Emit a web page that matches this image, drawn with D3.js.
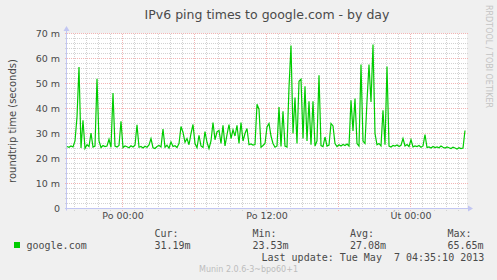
<!DOCTYPE html>
<html>
<head>
<meta charset="utf-8">
<script src="https://cdn.jsdelivr.net/npm/d3@7"></script>
<style>
body { margin: 0; background: #f0f0f0; }
svg { display: block; }
</style>
</head>
<body>
<script>

// Data: ping times (ms), one sample every 10 minutes
const startTime = "2013-05-05T19:22";
const stepMinutes = 10;
const pingMs = [
    24.8, 24.5, 25.0, 24.6, 27.0, 36.6, 56.6, 24.2, 35.3, 24.0,
    25.5, 24.8, 30.2, 24.6, 25.0, 51.9, 27.0, 24.4, 25.2, 24.8,
    25.0, 27.7, 24.5, 46.2, 25.0, 24.6, 25.2, 34.9, 24.4, 25.0,
    24.7, 24.3, 25.1, 24.6, 25.3, 33.5, 24.5, 24.8, 24.2, 24.9,
    24.5, 25.4, 28.0, 24.3, 24.0, 24.8, 25.2, 24.6, 31.8, 24.5,
    25.3, 24.1, 26.6, 24.8, 25.1, 24.4, 26.0, 32.8, 30.5, 26.5,
    28.0, 25.5, 30.0, 33.6, 26.0, 24.3, 29.3, 25.0, 24.4, 30.8,
    26.5, 24.0, 27.0, 34.4, 27.5, 30.7, 31.3, 26.0, 33.3, 25.0,
    29.5, 33.6, 28.0, 31.5, 29.0, 33.3, 26.0, 34.4, 27.0, 30.0,
    32.0, 25.5, 25.8, 25.4, 25.6, 41.7, 39.7, 24.5, 25.2, 26.0,
    32.6, 34.0, 29.0, 26.0, 24.5, 25.0, 40.6, 24.8, 38.9, 25.0,
    24.6, 48.5, 65.2, 30.0, 44.4, 26.0, 50.9, 51.7, 28.0, 48.9,
    27.0, 42.9, 25.5, 42.9, 25.0, 27.0, 53.3, 25.2, 24.8, 28.6,
    25.0, 25.4, 34.0, 33.0, 26.0, 24.8, 25.5, 25.0, 25.6, 25.2,
    25.8, 25.0, 43.3, 31.0, 44.0, 26.0, 25.0, 57.6, 27.0, 26.0,
    43.0, 57.6, 42.6, 65.6, 30.0, 25.5, 26.0, 25.0, 39.3, 25.5,
    56.8, 25.0, 24.6, 25.2, 25.0, 25.4, 24.8, 25.3, 28.0, 25.0,
    25.6, 24.8, 27.5, 24.6, 25.0, 24.8, 25.2, 24.5, 25.0, 29.6,
    24.4, 24.6, 24.2, 24.8, 24.4, 24.6, 24.3, 25.0, 24.5, 24.2,
    24.6, 24.3, 24.0, 24.5, 24.2, 23.8, 24.3, 24.0, 24.2, 31.2
];

// Axis ticks and labels
const yTicks = [0, 10, 20, 30, 40, 50, 60, 70];
const yTickLabels = ["0", "10 m", "20 m", "30 m", "40 m", "50 m", "60 m", "70 m"];
const xTickTimes = ["2013-05-06T00:00", "2013-05-06T12:00", "2013-05-07T00:00"];
const xTickLabels = ["Po 00:00", "Po 12:00", "Út 00:00"];

// Legend texts
const seriesName = "google.com";
const statLabels = ["Cur:", "Min:", "Avg:", "Max:"];
const statValues = ["31.19m", "23.53m", "27.08m", "65.65m"];
const lastUpdate = "Last update: Tue May  7 04:35:10 2013";

// SVG dimensions
const outerWidth = 497, outerHeight = 280;
const plotLeft = 67, plotRight = 467, plotTop = 33.5, plotBottom = 208.5;
const viewMinutes = 2000;   // 400 px at 5 min per px

const gridGrey = "#d2d2d2", gridRed = "#f2b4b4", axisColour = "#c2c6f2";
const textColour = "#4a4a4a";

const svg = d3.select("body")
    .append("svg")
    .attr("width", outerWidth)
    .attr("height", outerHeight);

svg.append("rect")
    .attr("width", outerWidth)
    .attr("height", outerHeight)
    .attr("fill", "#f0f0f0");

// Scales
const parseTime = d3.timeParse("%Y-%m-%dT%H:%M");
const t0 = parseTime(startTime);
const t1 = d3.timeMinute.offset(t0, viewMinutes);

let x = d3.scaleTime()
    .domain([t0, t1])
    .range([plotLeft, plotRight]);
let y = d3.scaleLinear()
    .domain([0, 70])
    .range([plotBottom, plotTop]);

let points = pingMs.map((v, i) => ({ t: d3.timeMinute.offset(t0, i * stepMinutes), v: v }));

// Canvas
svg.append("rect")
    .attr("x", plotLeft)
    .attr("y", plotTop)
    .attr("width", plotRight - plotLeft)
    .attr("height", plotBottom - plotTop)
    .attr("fill", "#ffffff");

// Horizontal grid: minor every 2 m, major every 10 m
let grid = svg.append("g").attr("shape-rendering", "crispEdges");
grid.selectAll(".hmin")
    .data(d3.range(2, 70, 2).filter(v => v % 10 !== 0))
    .join("line")
    .attr("x1", plotLeft - 2).attr("x2", plotRight + 2)
    .attr("y1", d => y(d)).attr("y2", d => y(d))
    .attr("stroke", gridGrey).attr("stroke-dasharray", "1,1");

// Vertical grid: every hour, red every 6 hours
let hours = d3.timeHour.range(d3.timeHour.ceil(t0), t1);
grid.selectAll(".vgrid")
    .data(hours)
    .join("line")
    .attr("x1", d => Math.floor(x(d)) + 0.5).attr("x2", d => Math.floor(x(d)) + 0.5)
    .attr("y1", plotTop).attr("y2", plotBottom + 2)
    .attr("stroke", d => d.getHours() % 6 === 0 ? gridRed : gridGrey)
    .attr("stroke-dasharray", "1,1");

grid.selectAll(".hmaj")
    .data(yTicks.filter(v => v > 0))
    .join("line")
    .attr("x1", plotLeft - 2).attr("x2", plotRight + 2)
    .attr("y1", d => y(d)).attr("y2", d => y(d))
    .attr("stroke", gridRed).attr("stroke-dasharray", "1,1");

// Axes lines and arrows
svg.append("line")
    .attr("x1", plotLeft - 2).attr("x2", plotRight + 2)
    .attr("y1", plotBottom).attr("y2", plotBottom)
    .attr("stroke", axisColour);
svg.append("line")
    .attr("x1", plotLeft - 0.5).attr("x2", plotLeft - 0.5)
    .attr("y1", plotBottom + 2).attr("y2", plotTop - 3)
    .attr("stroke", axisColour);
svg.append("path")
    .attr("d", `M${plotRight + 1},${plotBottom - 3} L${plotRight + 6},${plotBottom} L${plotRight + 1},${plotBottom + 3} Z`)
    .attr("fill", axisColour);
svg.append("path")
    .attr("d", `M${plotLeft - 3.5},${plotTop - 2.5} L${plotLeft - 0.5},${plotTop - 7.5} L${plotLeft + 2.5},${plotTop - 2.5} Z`)
    .attr("fill", axisColour);

// Tick labels through d3 axes
let yAxis = svg.append("g")
    .attr("transform", `translate(${plotLeft}, 0)`)
    .call(d3.axisLeft(y).tickValues(yTicks).tickSize(0).tickPadding(7)
        .tickFormat((d, i) => yTickLabels[i]));
let xAxis = svg.append("g")
    .attr("transform", `translate(0, ${plotBottom})`)
    .call(d3.axisBottom(x).tickValues(xTickTimes.map(parseTime)).tickSize(0).tickPadding(4)
        .tickFormat((d, i) => xTickLabels[i]));
[yAxis, xAxis].forEach(a => {
    a.select(".domain").remove();
    a.selectAll("text")
        .attr("fill", textColour)
        .style("font-family", "DejaVu Sans")
        .style("font-size", "9.5px");
});

// Plot line
svg.append("path")
    .datum(points)
    .attr("fill", "none")
    .attr("stroke", "#00cc00")
    .attr("stroke-width", 1.2)
    .attr("d", d3.line()
        .x(d => x(d.t))
        .y(d => y(d.v))
    );

// Title and labels
svg.append("text")
    .attr("x", (plotLeft + plotRight) / 2).attr("y", 18.5)
    .attr("text-anchor", "middle")
    .attr("fill", textColour)
    .style("font-family", "DejaVu Sans").style("font-size", "12.5px")
    .text("IPv6 ping times to google.com - by day");

svg.append("text")
    .attr("transform", `translate(15.5, ${(plotTop + plotBottom) / 2}) rotate(-90)`)
    .attr("text-anchor", "middle")
    .attr("fill", textColour)
    .style("font-family", "DejaVu Sans").style("font-size", "10px")
    .text("roundtrip time (seconds)");

svg.append("text")
    .attr("transform", "translate(486, 5) rotate(90)")
    .attr("fill", "#c4c4c4")
    .style("font-family", "DejaVu Sans").style("font-size", "8px")
    .text("RRDTOOL / TOBI OETIKER");

// Legend
const mono = "DejaVu Sans Mono";
svg.append("rect")
    .attr("x", 14).attr("y", 242)
    .attr("width", 6).attr("height", 6)
    .attr("fill", "#00cc00");
svg.append("text")
    .attr("x", 26.5).attr("y", 249)
    .attr("fill", textColour)
    .style("font-family", mono).style("font-size", "10px")
    .text(seriesName);

const statX = [154.5, 252.5, 350, 447.5];
statLabels.forEach((lab, i) => {
    svg.append("text")
        .attr("x", statX[i]).attr("y", 236.5)
        .attr("fill", textColour)
        .style("font-family", mono).style("font-size", "10px")
        .text(lab);
    svg.append("text")
        .attr("x", statX[i]).attr("y", 249)
        .attr("fill", textColour)
        .style("font-family", mono).style("font-size", "10px")
        .text(statValues[i]);
});

svg.append("text")
    .attr("x", 261.5).attr("y", 261)
    .attr("fill", textColour)
    .attr("xml:space", "preserve")
    .style("white-space", "pre")
    .style("font-family", mono).style("font-size", "10px")
    .text(lastUpdate);

svg.append("text")
    .attr("x", outerWidth / 2).attr("y", 271.5)
    .attr("text-anchor", "middle")
    .attr("fill", "#bdbdbd")
    .style("font-family", "DejaVu Sans").style("font-size", "8px")
    .text("Munin 2.0.6-3~bpo60+1");

</script>
</body>
</html>
